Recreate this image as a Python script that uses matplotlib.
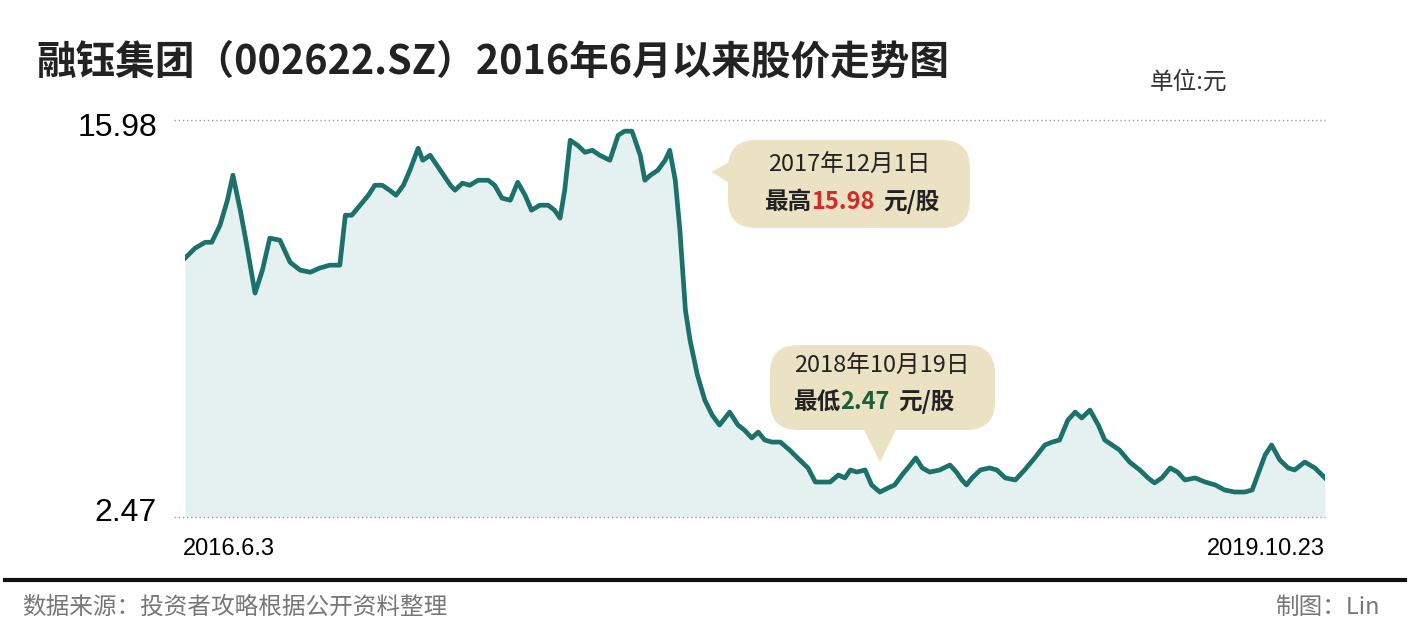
import matplotlib
matplotlib.use("Agg")
import matplotlib.pyplot as plt
from matplotlib.patches import FancyBboxPatch, Polygon
from matplotlib.lines import Line2D

plt.rcParams['font.family'] = ['Noto Sans CJK SC', 'DejaVu Sans']

days = [0,11,22,29,38,46,52,60,67,76,84,92,103,114,125,136,146,157,168,174,181,190,199,206,214,222,229,237,244,253,258,266,277,288,293,301,309,318,329,336,344,353,361,369,376,385,394,401,407,412,418,426,434,442,450,461,470,477,485,494,499,505,513,521,526,532,537,543,548,556,564,572,580,591,600,607,615,622,629,637,646,656,667,676,684,691,700,709,716,722,729,738,745,754,763,770,778,787,793,800,808,819,830,837,843,848,854,863,873,881,890,901,911,922,933,941,949,958,966,973,982,991,998,1006,1014,1025,1036,1045,1052,1060,1069,1077,1085,1096,1107,1118,1128,1139,1150,1158,1164,1172,1179,1188,1197,1204,1215,1226,1237]
prices = [11.28,11.62,11.82,11.82,12.40,13.25,14.10,12.91,11.72,10.09,10.87,11.96,11.89,11.14,10.87,10.80,10.94,11.04,11.04,12.74,12.74,13.08,13.42,13.76,13.76,13.59,13.42,13.76,14.27,15.02,14.61,14.78,14.27,13.76,13.59,13.83,13.76,13.93,13.93,13.76,13.32,13.25,13.86,13.42,12.91,13.08,13.08,12.91,12.64,13.59,15.29,15.12,14.88,14.95,14.78,14.61,15.46,15.60,15.60,14.78,13.93,14.10,14.27,14.61,14.95,13.93,12.23,9.51,8.49,7.30,6.45,5.94,5.60,6.04,5.60,5.43,5.16,5.36,5.09,5.02,5.02,4.75,4.41,4.14,3.66,3.66,3.66,3.90,3.80,4.07,4.00,4.07,3.56,3.32,3.46,3.56,3.90,4.24,4.48,4.14,4.00,4.07,4.24,4.00,3.73,3.56,3.80,4.07,4.14,4.07,3.80,3.73,4.07,4.48,4.92,5.02,5.09,5.77,6.04,5.84,6.11,5.60,5.09,4.92,4.75,4.34,4.07,3.80,3.63,3.80,4.14,4.00,3.73,3.80,3.66,3.56,3.39,3.32,3.32,3.39,3.90,4.58,4.92,4.41,4.14,4.07,4.34,4.14,3.80]

y_min, y_max = 2.47, 15.98
W, H = 1410, 632
fig = plt.figure(figsize=(W/100, H/100), dpi=100)
fig.patch.set_facecolor('white')

def fx(x): return x / W
def fy(y): return 1 - y / H

ax = fig.add_axes([fx(185), fy(517), fx(1325) - fx(185), (517 - 120) / H])
ax.set_xlim(0, 1237)
ax.set_ylim(y_min, y_max)
ax.fill_between(days, prices, y_min, color='#e5f1f1', lw=0)
ax.plot(days, prices, color='#1c716b', lw=3.4, solid_joinstyle='round')
ax.axis('off')
ax.plot([-0.01, 1.0], [1, 1], transform=ax.transAxes, ls=(0, (1, 2)), color='#999999', lw=1, clip_on=False)
ax.plot([-0.01, 1.0], [0, 0], transform=ax.transAxes, ls=(0, (1, 2)), color='#999999', lw=1, clip_on=False)

fig.text(fx(157), fy(128), '15.98', fontsize=23, ha='right', va='center', family=['Liberation Sans'])
fig.text(fx(157), fy(513), '2.47', fontsize=23, ha='right', va='center', family=['Liberation Sans'])
fig.text(fx(183), fy(549), '2016.6.3', fontsize=17, ha='left', va='center', family=['Liberation Sans'])
fig.text(fx(1325), fy(549), '2019.10.23', fontsize=17, ha='right', va='center', family=['Liberation Sans'])

fig.text(fx(36), fy(62), '融钰集团（002622.SZ）2016年6月以来股价走势图', fontsize=28.5, fontweight='bold',
         ha='left', va='center', color='#222222')
fig.text(fx(1150), fy(82), '单位:元', fontsize=17, ha='left', va='center', color='#333333')

fig.add_artist(Line2D([fx(5), fx(1405)], [fy(580), fy(580)], color='#111111', lw=3))
fig.text(fx(22), fy(607), '数据来源：投资者攻略根据公开资料整理', fontsize=17, ha='left', va='center', color='#777777')
fig.text(fx(1380), fy(607), '制图：Lin', fontsize=17, ha='right', va='center', color='#777777')

bc = '#ebe2c3'
def callout(x0, y0, x1, y1, tri):
    fig.add_artist(FancyBboxPatch((fx(x0), fy(y1)), fx(x1 - x0), (y1 - y0) / H,
                                  boxstyle='round,pad=0,rounding_size=0.02', fc=bc, ec='none',
                                  transform=fig.transFigure, mutation_aspect=W / H))
    fig.add_artist(Polygon([(fx(a), fy(b)) for a, b in tri], closed=True, fc=bc, ec='none',
                           transform=fig.transFigure))

callout(728, 140, 970, 228, [(712, 172), (732, 160), (732, 185)])
fig.text(fx(849), fy(165), '2017年12月1日', fontsize=17, ha='center', va='center', color='#222222')
fig.text(fx(811), fy(202), '最高', fontsize=17, fontweight='bold', ha='right', va='center', color='#222222')
fig.text(fx(811), fy(202), '15.98', fontsize=17, fontweight='bold', ha='left', va='center', color='#d42a2a')
fig.text(fx(883), fy(202), '元/股', fontsize=17, fontweight='bold', ha='left', va='center', color='#222222')

callout(770, 345, 995, 430, [(862, 426), (898, 426), (880, 462)])
fig.text(fx(882), fy(366), '2018年10月19日', fontsize=17, ha='center', va='center', color='#222222')
fig.text(fx(840), fy(402), '最低', fontsize=17, fontweight='bold', ha='right', va='center', color='#222222')
fig.text(fx(840), fy(402), '2.47', fontsize=17, fontweight='bold', ha='left', va='center', color='#1c5e3a')
fig.text(fx(898), fy(402), '元/股', fontsize=17, fontweight='bold', ha='left', va='center', color='#222222')

fig.savefig('out.png', dpi=100, facecolor='white')
